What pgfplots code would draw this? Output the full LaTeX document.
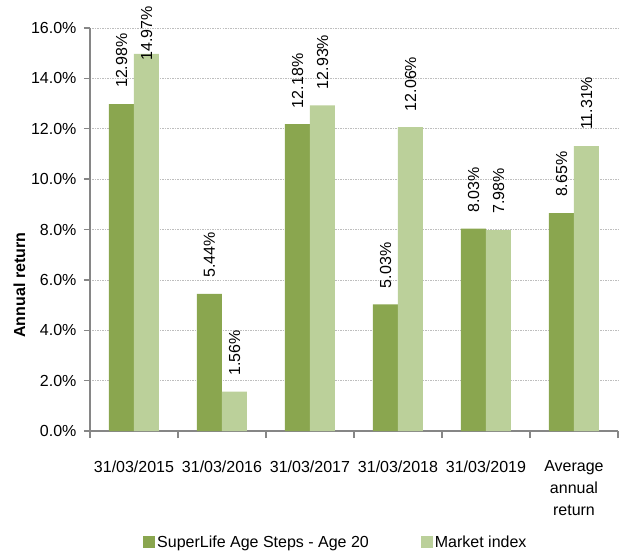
\documentclass[border=0pt]{standalone}
\usepackage{fontspec}
\setmainfont{Liberation Sans}
\usepackage{pgfplots}
\pgfplotsset{compat=1.18}

\definecolor{darkbar}{RGB}{138,166,79}
\definecolor{lightbar}{RGB}{187,208,154}
\definecolor{axisgray}{RGB}{134,134,134}
\definecolor{gridgray}{RGB}{190,190,190}

\begin{document}
\begin{tikzpicture}[font=\fontsize{16}{22}\selectfont]
\useasboundingbox (-90pt,-119pt) rectangle (532pt,431pt);
\begin{axis}[
    scale only axis,
    width=528pt, height=403pt,
    ybar=0pt, bar width=25pt,
    xmin=-0.5, xmax=5.5, ymin=0, ymax=16,
    enlargelimits=false,
    axis x line*=bottom, axis y line*=left,
    axis line style={axisgray, line width=1.3pt},
    xtick={0,...,5},
    xticklabels={31/03/2015,31/03/2016,31/03/2017,31/03/2018,31/03/2019,{Average\\annual\\return}},
    xticklabel style={align=center, yshift=-20pt},
    minor xtick={-0.5,0.5,...,5.5},
    major x tick style={draw=none},
    minor x tick style={axisgray, line width=1.3pt},
    minor tick length=7pt,
    ytick={0,2,...,16},
    major y tick style={axisgray, line width=1.3pt},
    major tick length=6pt,
    tick align=outside,
    yticklabel={\pgfmathprintnumber[fixed,fixed zerofill,precision=1]{\tick}\%},
    yticklabel style={xshift=-4pt},
    /pgf/number format/assume math mode=true,
    ymajorgrids,
    grid style={gridgray, dash pattern=on 1.5pt off 1pt, line width=0.6pt},
    ylabel={\bfseries Annual return},
    ylabel style={at={(ticklabel cs:0.362)}, yshift=-1pt},
    visualization depends on={y \as \rawy},
    nodes near coords={\pgfmathprintnumber[fixed,fixed zerofill,precision=2]{\pgfplotspointmeta}\%},
    every node near coord/.append style={rotate=90, anchor=west, black,
        inner xsep={ifthenelse(\rawy>14,-7,16)*1pt}},
    legend style={at={(0.0947,-0.2754)}, anchor=west, draw=none, legend columns=2,
        /tikz/every even column/.append style={column sep=50pt}},
    legend image code/.code={\fill[#1] (0pt,-6pt) rectangle (12pt,6pt);},
]
\addplot[fill=darkbar, draw=none] coordinates {(0,12.98) (1,5.44) (2,12.18) (3,5.03) (4,8.03) (5,8.65)};
\addlegendentry{SuperLife Age Steps - Age 20}
\addplot[fill=lightbar, draw=none] coordinates {(0,14.97) (1,1.56) (2,12.93) (3,12.06) (4,7.98) (5,11.31)};
\addlegendentry{Market index}
\end{axis}
\end{tikzpicture}
\end{document}
